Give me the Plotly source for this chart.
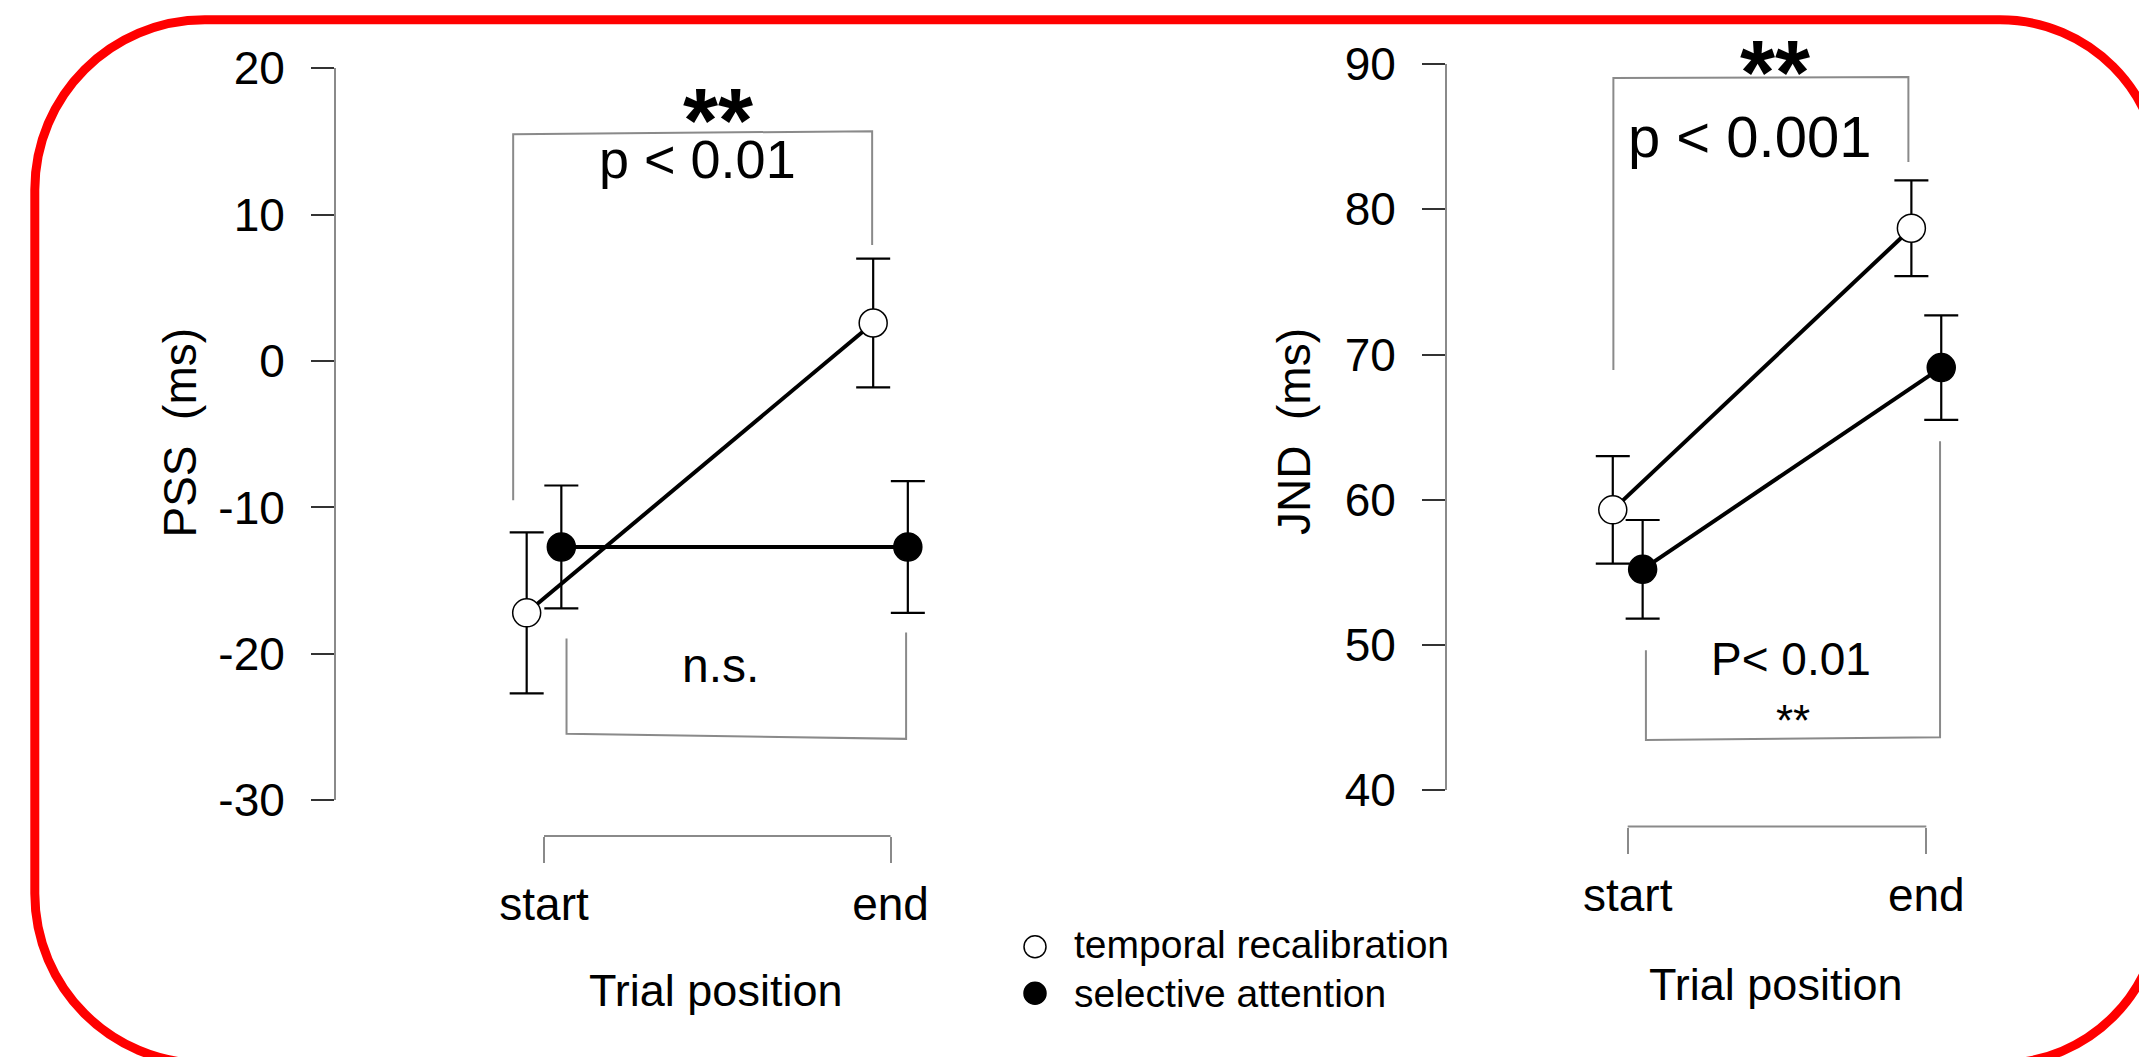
import plotly.graph_objects as go

W, H = 2139, 1057
FONT = "Liberation Sans, Arial, sans-serif"
GRAY = "#8a8a8a"
TICKC = "#333333"

# ---------------- data ----------------
positions = ["start", "end"]
series_names = ["temporal recalibration", "selective attention"]

pss_temporal = [-17.2, 2.6]
pss_temporal_err = [5.5, 4.4]
pss_selective = [-12.7, -12.7]
pss_selective_err = [4.2, 4.5]

jnd_temporal = [59.3, 78.7]
jnd_temporal_err = [3.7, 3.3]
jnd_selective = [55.2, 69.1]
jnd_selective_err = [3.4, 3.6]

pss_ticks = [-30, -20, -10, 0, 10, 20]
jnd_ticks = [40, 50, 60, 70, 80, 90]

DODGE = 0.05
idx = list(range(len(positions)))


def px(x):
    return x / W


def py(y):
    return 1 - y / H


fig = go.Figure()


def add_series(xa, ya, vals, errs, name, filled, dx):
    fig.add_trace(go.Scatter(
        x=[i + dx for i in idx], y=vals, name=name, xaxis=xa, yaxis=ya,
        mode="lines+markers",
        line=dict(color="black", width=4),
        marker=dict(symbol="circle", size=28,
                    color="black" if filled else "white",
                    line=dict(color="black", width=1.5)),
        error_y=dict(type="data", array=errs, thickness=2.2, width=17, color="black"),
        showlegend=False, cliponaxis=False,
    ))


add_series("x", "y", pss_selective, pss_selective_err, series_names[1], True, DODGE)
add_series("x", "y", pss_temporal, pss_temporal_err, series_names[0], False, -DODGE)
add_series("x2", "y2", jnd_selective, jnd_selective_err, series_names[1], True, DODGE)
add_series("x2", "y2", jnd_temporal, jnd_temporal_err, series_names[0], False, -DODGE)

# ---------------- axes ----------------
common_y = dict(showline=True, linecolor=GRAY, linewidth=2, ticks="outside",
                ticklen=23, tickwidth=2, tickcolor=TICKC, showgrid=False,
                zeroline=False, tickfont=dict(family=FONT, size=46, color="black"),
                ticklabelstandoff=17, automargin=False)
common_x = dict(showline=False, ticks="outside", ticklen=26, tickwidth=2,
                tickcolor=GRAY, showgrid=False, zeroline=False,
                tickfont=dict(family=FONT, size=46, color="black"),
                ticklabelstandoff=2, anchor="free", automargin=False)

fig.update_layout(
    xaxis=dict(domain=[px(336), px(1000)], range=[-0.6003, 1.3160],
               tickvals=idx, ticktext=positions, position=py(836), **common_x),
    yaxis=dict(domain=[py(800.2), py(68.3)], range=[pss_ticks[0], pss_ticks[-1]],
               tickvals=pss_ticks, ticktext=[str(v) for v in pss_ticks],
               anchor="x", **common_y),
    xaxis2=dict(domain=[px(1447), px(2100)], range=[-0.6052, 1.5817],
                tickvals=idx, ticktext=positions, position=py(826.5), **common_x),
    yaxis2=dict(domain=[py(790), py(64.2)], range=[jnd_ticks[0], jnd_ticks[-1]],
                tickvals=jnd_ticks, ticktext=[str(v) for v in jnd_ticks],
                anchor="x2", **common_y),
)

# ---------------- shapes ----------------
shapes = []
# R-style x axis brackets
shapes.append(dict(type="line", xref="x", yref="paper", x0=idx[0], x1=idx[-1],
                   y0=py(836), y1=py(836), line=dict(color=GRAY, width=2)))
shapes.append(dict(type="line", xref="x2", yref="paper", x0=idx[0], x1=idx[-1],
                   y0=py(826.5), y1=py(826.5), line=dict(color=GRAY, width=2)))
# significance brackets
shapes.append(dict(type="path", xref="x", yref="y",
                   path="M -0.089,-9.51 L -0.089,15.50 L 0.947,15.70 L 0.947,7.93",
                   line=dict(color=GRAY, width=2)))
shapes.append(dict(type="path", xref="x", yref="y",
                   path="M 0.065,-18.95 L 0.065,-25.46 L 1.045,-25.81 L 1.045,-18.54",
                   line=dict(color=GRAY, width=2)))
shapes.append(dict(type="path", xref="x2", yref="y2",
                   path="M -0.048,68.93 L -0.048,89.05 L 0.94,89.12 L 0.94,83.26",
                   line=dict(color=GRAY, width=2)))
shapes.append(dict(type="path", xref="x2", yref="y2",
                   path="M 0.061,49.62 L 0.061,43.44 L 1.046,43.63 L 1.046,64.03",
                   line=dict(color=GRAY, width=2)))


# red rounded frame
def P(x, y):
    return f"{px(x):.5f},{py(y):.5f}"


xL, yT, xR, yB, rL, rR, k = 34.8, 19.8, 2160, 1063.6, 170, 160, 0.5523
frame = (
    f"M {P(xL + rL, yT)} L {P(xR - rR, yT)} "
    f"C {P(xR - rR + k * rR, yT)} {P(xR, yT + rR - k * rR)} {P(xR, yT + rR)} "
    f"L {P(xR, yB - rR)} "
    f"C {P(xR, yB - rR + k * rR)} {P(xR - rR + k * rR, yB)} {P(xR - rR, yB)} "
    f"L {P(xL + rL, yB)} "
    f"C {P(xL + rL - k * rL, yB)} {P(xL, yB - rL + k * rL)} {P(xL, yB - rL)} "
    f"L {P(xL, yT + rL)} "
    f"C {P(xL, yT + rL - k * rL)} {P(xL + rL - k * rL, yT)} {P(xL + rL, yT)} Z"
)
shapes.append(dict(type="path", xref="paper", yref="paper", path=frame,
                   line=dict(color="#ff0000", width=9)))

# legend symbols
r = 11
shapes.append(dict(type="circle", xref="paper", yref="paper",
                   x0=px(1035 - r), x1=px(1035 + r), y0=py(946.7 + r), y1=py(946.7 - r),
                   line=dict(color="black", width=1.5), fillcolor="white"))
shapes.append(dict(type="circle", xref="paper", yref="paper",
                   x0=px(1035 - r), x1=px(1035 + r), y0=py(993.3 + r), y1=py(993.3 - r),
                   line=dict(color="black", width=1.5), fillcolor="black"))

fig.update_layout(shapes=shapes)


# ---------------- annotations ----------------
def ann(text, x, y, size, xref="paper", yref="paper", bold=False, angle=0, xanchor="center"):
    return dict(text=f"<b>{text}</b>" if bold else text, x=x, y=y, xref=xref, yref=yref,
                showarrow=False, textangle=angle, xanchor=xanchor, yanchor="middle",
                font=dict(family=FONT, size=size, color="black"))


anns = [
    ann("PSS\u00a0 (ms)", px(180), py(432.5), 46, angle=-90),
    ann("JND\u00a0 (ms)", px(1294), py(432), 46, angle=-90),
    ann("Trial position", px(715.5), py(990), 45),
    ann("Trial position", px(1775.6), py(984.4), 45),
    ann("**", 0.502, 16.42, 90, "x", "y", bold=True),
    ann("p < 0.01", 0.4416, 13.83, 54, "x", "y"),
    ann("n.s.", 0.508, -20.82, 48, "x", "y"),
    ann("**", 0.493, 89.37, 90, "x2", "y2", bold=True),
    ann("p < 0.001", 0.411, 85.01, 58, "x2", "y2"),
    ann("P< 0.01", 0.547, 49.02, 46, "x2", "y2"),
    ann("**", 0.554, 44.80, 44, "x2", "y2"),
    ann(series_names[0], px(1071.7), py(944.8), 39, xanchor="left"),
    ann(series_names[1], px(1071.7), py(993.2), 39, xanchor="left"),
]
fig.update_layout(annotations=anns)

fig.update_layout(
    width=W, height=H, autosize=False,
    margin=dict(l=0, r=0, t=0, b=0, pad=0, autoexpand=False),
    paper_bgcolor="white", plot_bgcolor="white",
    showlegend=False,
    font=dict(family=FONT, color="black"),
)

fig.write_html("out.html", config={"displayModeBar": False},
               post_script="document.body.style.margin='0';document.body.style.overflow='hidden';")
